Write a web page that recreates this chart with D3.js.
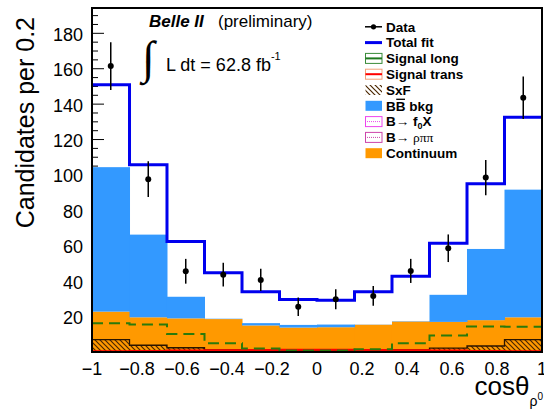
<!DOCTYPE html>
<html>
<head>
<meta charset="utf-8">
<script src="https://cdn.jsdelivr.net/npm/d3@7"></script>
<style>
body { margin: 0; background: #fff; }
text { font-family: "Liberation Sans", Arial, sans-serif; }
</style>
</head>
<body>
<div id="chart"></div>
<script>
// bins of cos(theta_rho0), 12 bins over [-1, 1]
var binEdges = [-1, -0.8333, -0.6667, -0.5, -0.3333, -0.1667, 0, 0.1667, 0.3333, 0.5, 0.6667, 0.8333, 1];
var dataVals = [161.5, 97.6, 45.6, 43.7, 40.7, 25.6, 29.8, 31.7, 45.8, 58.6, 98.5, 143.6];
var dataErr = [13.5, 10.1, 7.0, 6.7, 6.3, 5.2, 5.6, 5.6, 6.8, 7.8, 10.0, 12.0];
var totalFit = [151.0, 105.7, 62.4, 44.7, 34.1, 29.6, 29.2, 34.0, 42.8, 61.4, 95.0, 132.6];
var continuum = [22.8, 19.6, 19.0, 18.6, 15.0, 13.8, 14.0, 15.4, 17.2, 17.0, 18.0, 19.6];
var bbBkg = [81.6, 46.7, 12.2, 0.2, 1.3, 1.5, 1.5, 0.1, 0.2, 15.3, 40.2, 72.1];
var signalLong = [16.2, 15.6, 10.2, 4.9, 2.0, 0.9, 0.9, 1.5, 4.9, 9.3, 14.4, 14.2];
var signalTrans = [0.4, 0.6, 0.8, 1.0, 1.2, 1.3, 1.3, 1.2, 1.0, 0.8, 0.6, 0.4];
var sxf = [7.0, 3.8, 2.4, 1.2, 0.8, 0.6, 0.6, 0.8, 1.2, 2.2, 3.4, 7.0];

var xTicks = [-1, -0.8, -0.6, -0.4, -0.2, 0, 0.2, 0.4, 0.6, 0.8, 1];
var xTickLabels = ["\u22121", "\u22120.8", "\u22120.6", "\u22120.4", "\u22120.2", "0", "0.2", "0.4", "0.6", "0.8", "1"];
var yTicks = [20, 40, 60, 80, 100, 120, 140, 160, 180];
var legendLabels = ["Data", "Total fit", "Signal long", "Signal trans", "SxF", "BB bkg", "B\u2192 f0X", "B\u2192 \u03c1\u03c0\u03c0", "Continuum"];

function base(){
    var w = 544;
    var h = 411;

    var x = d3.scaleLinear().domain([-1, 1]).range([92, 542]);
    var y = d3.scaleLinear().domain([0, 194.3]).range([352, 8]);

    var svg = d3.select("#chart")
        .append("svg")
        .attr("width", w)
        .attr("height", h);

    svg.append("rect").attr("width", w).attr("height", h).attr("fill", "#fff");

    var defs = svg.append("defs");
    defs.append("pattern")
        .attr("id", "hatch")
        .attr("patternUnits", "userSpaceOnUse")
        .attr("width", 5).attr("height", 5)
        .append("path")
        .attr("d", "M-1,-1 L6,6 M-1,4 L1,6 M4,-1 L6,1")
        .attr("stroke", "#4a2600")
        .attr("stroke-width", 1.2);

    // y ticks (drawn first, fills cover them)
    var minor = d3.range(0, 195, 5);
    svg.selectAll("line.ytick")
        .data(minor)
        .enter()
        .append("line")
        .attr("class", "ytick")
        .attr("x1", x(-1))
        .attr("x2", function(d) { return x(-1) + (d % 20 == 0 ? 12 : 6); })
        .attr("y1", function(d) { return y(d); })
        .attr("y2", function(d) { return y(d); })
        .attr("stroke", "#000")
        .attr("stroke-width", 1);

    var bins = d3.range(12);

    // Continuum (bottom of stack)
    svg.selectAll("rect.cont")
        .data(bins)
        .enter()
        .append("rect")
        .attr("class", "cont")
        .attr("x", function(i) { return x(binEdges[i]); })
        .attr("width", function(i) { return x(binEdges[i + 1]) - x(binEdges[i]) + 0.5; })
        .attr("y", function(i) { return y(continuum[i]); })
        .attr("height", function(i) { return y(0) - y(continuum[i]); })
        .attr("fill", "#ff9900");

    // BB bkg stacked on continuum
    svg.selectAll("rect.bb")
        .data(bins)
        .enter()
        .append("rect")
        .attr("class", "bb")
        .attr("x", function(i) { return x(binEdges[i]); })
        .attr("width", function(i) { return x(binEdges[i + 1]) - x(binEdges[i]) + 0.5; })
        .attr("y", function(i) { return y(continuum[i] + bbBkg[i]); })
        .attr("height", function(i) { return y(continuum[i]) - y(continuum[i] + bbBkg[i]); })
        .attr("fill", "#3399ff");

    function stepPts(vals) {
        var p = vals.map(function(v, i) { return [binEdges[i], v]; });
        p.push([binEdges[12], vals[11]]);
        return p;
    }
    var step = d3.line()
        .x(function(d) { return x(d[0]); })
        .y(function(d) { return y(d[1]); })
        .curve(d3.curveStepAfter);
    var stepArea = d3.area()
        .x(function(d) { return x(d[0]); })
        .y0(y(0))
        .y1(function(d) { return y(d[1]); })
        .curve(d3.curveStepAfter);

    // SxF hatch
    svg.append("path")
        .attr("d", stepArea(stepPts(sxf)))
        .attr("fill", "url(#hatch)");
    svg.append("path")
        .attr("d", step(stepPts(sxf)))
        .attr("fill", "none")
        .attr("stroke", "#2a1500")
        .attr("stroke-width", 1.3);

    // Signal trans
    svg.append("path")
        .attr("d", step(stepPts(signalTrans)))
        .attr("fill", "none")
        .attr("stroke", "#ff0000")
        .attr("stroke-width", 2);

    // Signal long (dashed)
    svg.append("path")
        .attr("d", step(stepPts(signalLong)))
        .attr("fill", "none")
        .attr("stroke", "#2b7a0b")
        .attr("stroke-width", 2)
        .attr("stroke-dasharray", "11,6");

    // Total fit
    svg.append("path")
        .attr("d", step(stepPts(totalFit)))
        .attr("fill", "none")
        .attr("stroke", "#0000ee")
        .attr("stroke-width", 3);

    // Data points
    var pts = svg.selectAll("g.pt")
        .data(bins)
        .enter()
        .append("g")
        .attr("class", "pt");
    pts.append("line")
        .attr("x1", function(i) { return x((binEdges[i] + binEdges[i + 1]) / 2); })
        .attr("x2", function(i) { return x((binEdges[i] + binEdges[i + 1]) / 2); })
        .attr("y1", function(i) { return y(dataVals[i] - dataErr[i]); })
        .attr("y2", function(i) { return y(dataVals[i] + dataErr[i]); })
        .attr("stroke", "#000")
        .attr("stroke-width", 1.5);
    pts.append("circle")
        .attr("cx", function(i) { return x((binEdges[i] + binEdges[i + 1]) / 2); })
        .attr("cy", function(i) { return y(dataVals[i]); })
        .attr("r", 3)
        .attr("fill", "#000");

    // frame
    svg.append("rect")
        .attr("x", x(-1)).attr("y", y(194.3))
        .attr("width", x(1) - x(-1)).attr("height", y(0) - y(194.3))
        .attr("fill", "none")
        .attr("stroke", "#000")
        .attr("stroke-width", 2);

    // axis labels
    svg.selectAll("text.xl")
        .data(xTicks)
        .enter()
        .append("text")
        .attr("class", "xl")
        .attr("x", function(d) { return x(d); })
        .attr("y", 375)
        .attr("text-anchor", "middle")
        .attr("font-size", 18)
        .text(function(d, i) { return xTickLabels[i]; });

    svg.selectAll("text.yl")
        .data(yTicks)
        .enter()
        .append("text")
        .attr("class", "yl")
        .attr("x", 83)
        .attr("y", function(d) { return y(d) + 7.5; })
        .attr("text-anchor", "end")
        .attr("font-size", 18)
        .text(function(d) { return d; });

    svg.append("text")
        .attr("transform", "translate(34,17) rotate(-90)")
        .attr("text-anchor", "end")
        .attr("font-size", 25)
        .text("Candidates per 0.2");

    var xt = svg.append("text")
        .attr("x", 543)
        .attr("y", 395)
        .attr("text-anchor", "end")
        .attr("font-size", 26);
    xt.append("tspan").text("cos\u03b8");
    xt.append("tspan").attr("font-size", 14).attr("dy", 11).text("\u03c1");
    xt.append("tspan").attr("font-size", 10).attr("dy", -6).text("0");

    // experiment labels
    svg.append("text")
        .attr("x", 149).attr("y", 27)
        .attr("font-size", 17)
        .attr("font-weight", "bold")
        .attr("font-style", "italic")
        .text("Belle II");
    svg.append("text")
        .attr("x", 218).attr("y", 27)
        .attr("font-size", 17)
        .text("(preliminary)");
    svg.append("text")
        .attr("x", 142).attr("y", 73)
        .attr("font-size", 46)
        .attr("font-style", "italic")
        .style("font-family", "'Liberation Serif', serif")
        .text("\u222b");
    var lum = svg.append("text")
        .attr("x", 166).attr("y", 71)
        .attr("font-size", 18);
    lum.append("tspan").text("L dt = 62.8 fb");
    lum.append("tspan").attr("font-size", 11).attr("dy", -11).text("-1");

    // legend
    var lx = 365, ly0 = 26.8, lstep = 15.8;
    var leg = svg.append("g");
    legendLabels.forEach(function(lab, i) {
        var cy = ly0 + i * lstep;
        var g = leg.append("g");
        if (i == 0) {
            g.append("line").attr("x1", lx).attr("x2", lx + 17).attr("y1", cy).attr("y2", cy)
                .attr("stroke", "#000").attr("stroke-width", 1.5);
            g.append("circle").attr("cx", lx + 8.5).attr("cy", cy).attr("r", 2.6).attr("fill", "#000");
        } else if (i == 1) {
            g.append("line").attr("x1", lx).attr("x2", lx + 17).attr("y1", cy).attr("y2", cy)
                .attr("stroke", "#0000ee").attr("stroke-width", 3);
        } else if (i == 2 || i == 3) {
            g.append("rect").attr("x", lx + 0.5).attr("y", cy - 5).attr("width", 16.5).attr("height", 10)
                .attr("fill", "#fff").attr("stroke", i == 2 ? "#3a8c3a" : "#f2a27a").attr("stroke-width", 1);
            g.append("line").attr("x1", lx + 0.5).attr("x2", lx + 17).attr("y1", cy).attr("y2", cy)
                .attr("stroke", i == 2 ? "#1f7a1f" : "#ff0000").attr("stroke-width", 2);
        } else if (i == 4) {
            g.append("rect").attr("x", lx + 0.5).attr("y", cy - 5).attr("width", 16.5).attr("height", 10)
                .attr("fill", "url(#hatch)");
        } else if (i == 5 || i == 8) {
            g.append("rect").attr("x", lx + 0.5).attr("y", cy - 5).attr("width", 16.5).attr("height", 10)
                .attr("fill", i == 5 ? "#3399ff" : "#ff9900");
        } else {
            var c = i == 6 ? "#ee44ee" : "#cc44aa";
            g.append("rect").attr("x", lx + 0.5).attr("y", cy - 5).attr("width", 16.5).attr("height", 10)
                .attr("fill", "#fff").attr("stroke", c).attr("stroke-width", 1);
            g.append("line").attr("x1", lx + 2).attr("x2", lx + 16).attr("y1", cy).attr("y2", cy)
                .attr("stroke", c).attr("stroke-width", 1).attr("stroke-dasharray", "1,1");
        }
        var t = g.append("text")
            .attr("x", lx + 21)
            .attr("y", cy + 4.8)
            .attr("font-size", 13.5)
            .attr("font-weight", "bold");
        if (i == 6) {
            t.append("tspan").text("B\u2192 f");
            t.append("tspan").attr("font-size", 9).attr("dy", 3).text("0");
            t.append("tspan").attr("dy", -3).text("X");
        } else if (i == 7) {
            t.append("tspan").text("B\u2192 ");
            t.append("tspan").attr("font-weight", "normal")
                .style("font-family", "'Liberation Serif', serif").text("\u03c1\u03c0\u03c0");
        } else {
            t.text(lab);
        }
        if (i == 5) {
            var node = t.node();
            var x0 = node.getStartPositionOfChar(1).x;
            var x1 = node.getEndPositionOfChar(1).x;
            g.append("line").attr("x1", x0 + 0.5).attr("x2", x1 - 0.5)
                .attr("y1", cy - 6.5).attr("y2", cy - 6.5)
                .attr("stroke", "#000").attr("stroke-width", 1.3);
        }
    });
}

window.onload = base;
</script>
</body>
</html>
